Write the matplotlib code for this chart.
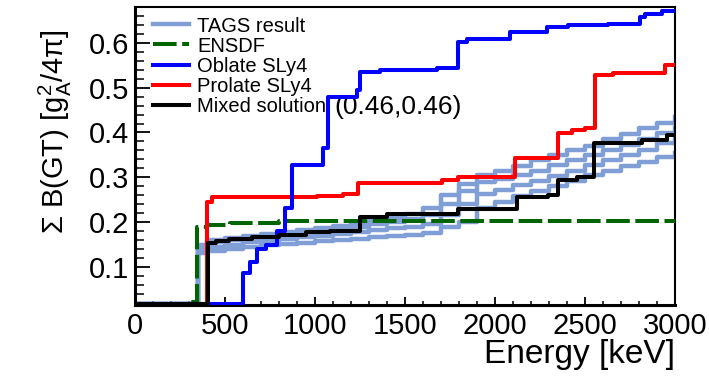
import numpy as np
import matplotlib
matplotlib.use("Agg")
import matplotlib.pyplot as plt
from matplotlib.ticker import MultipleLocator, FormatStrFormatter

plt.rcParams['font.family'] = ['Liberation Sans', 'DejaVu Sans']
plt.rcParams['mathtext.fontset'] = 'custom'
plt.rcParams['mathtext.rm'] = 'Liberation Sans'
plt.rcParams['mathtext.it'] = 'Liberation Sans:italic'
plt.rcParams['lines.scale_dashes'] = False

# TAGS solutions (four curves, drawn as one band)
tags_e = [0, 350, 400, 500, 600, 700, 800, 900, 1000, 1100, 1200, 1300, 1400, 1500,
          1600, 1700, 1800, 1900, 2000, 2100, 2200, 2300, 2400, 2500, 2600, 2700,
          2800, 2900, 3000]
tags_a = [0.018, 0.15, 0.16, 0.165, 0.17, 0.173, 0.177, 0.182, 0.187, 0.192, 0.197,
          0.203, 0.21, 0.218, 0.232, 0.26, 0.285, 0.305, 0.315, 0.325, 0.338, 0.35,
          0.36, 0.37, 0.385, 0.397, 0.41, 0.422, 0.435]
tags_b = [0.018, 0.145, 0.155, 0.16, 0.163, 0.167, 0.171, 0.175, 0.18, 0.185, 0.19,
          0.195, 0.2, 0.206, 0.215, 0.24, 0.27, 0.29, 0.297, 0.305, 0.315, 0.327,
          0.338, 0.35, 0.362, 0.373, 0.385, 0.398, 0.41]
tags_c = [0.018, 0.14, 0.145, 0.15, 0.155, 0.158, 0.162, 0.166, 0.17, 0.174, 0.178,
          0.182, 0.186, 0.19, 0.196, 0.215, 0.24, 0.262, 0.272, 0.282, 0.292, 0.303,
          0.315, 0.327, 0.339, 0.35, 0.362, 0.376, 0.39]
tags_d = [0.018, 0.13, 0.135, 0.14, 0.145, 0.148, 0.151, 0.154, 0.157, 0.16, 0.163,
          0.166, 0.169, 0.172, 0.176, 0.188, 0.2, 0.232, 0.245, 0.258, 0.27, 0.28,
          0.292, 0.305, 0.315, 0.325, 0.335, 0.345, 0.355]

ensdf_e = [0, 305, 345, 400, 530, 800, 3000]
ensdf_v = [0.018, 0.022, 0.19, 0.194, 0.198, 0.203, 0.203]

oblate_e = [0, 600, 640, 680, 730, 790, 835, 870, 1045, 1070, 1235, 1250, 1360, 1680,
            1795, 1845, 2085, 2290, 2405, 2630, 2805, 2835, 2930, 3000]
oblate_v = [0.018, 0.087, 0.112, 0.14, 0.149, 0.18, 0.232, 0.328, 0.366, 0.48, 0.495,
            0.535, 0.54, 0.544, 0.603, 0.608, 0.625, 0.635, 0.64, 0.643, 0.658, 0.665,
            0.672, 0.672]

prolate_e = [0, 400, 430, 1010, 1155, 1240, 1705, 1795, 2110, 2350, 2430, 2500, 2555,
             2655, 2945, 3000]
prolate_v = [0.018, 0.245, 0.256, 0.258, 0.262, 0.287, 0.294, 0.3, 0.343, 0.399, 0.405,
             0.41, 0.529, 0.533, 0.551, 0.551]

mixed_e = [0, 405, 450, 520, 650, 800, 950, 1085, 1250, 1400, 1795, 2120, 2295, 2350,
           2455, 2550, 2815, 2955, 3000]
mixed_v = [0.018, 0.153, 0.158, 0.163, 0.167, 0.172, 0.177, 0.181, 0.212, 0.219, 0.229,
           0.256, 0.26, 0.294, 0.3, 0.377, 0.383, 0.395, 0.395]

tags_col = '#7f9fd6'
lw = 2.9

fig = plt.figure(figsize=(7.09, 3.77), dpi=100)
ax = fig.add_axes([135/709, 1-305/377, 540/709, 298/377])

for i, t in enumerate([tags_a, tags_b, tags_c, tags_d]):
    ax.step(tags_e, t, where='post', color=tags_col, lw=3.2, zorder=2,
            label='TAGS result' if i == 0 else None)
ax.step(ensdf_e, ensdf_v, where='post', color='#006400', lw=lw, dashes=(17, 4),
        zorder=3, label='ENSDF')
ax.step(oblate_e, oblate_v, where='post', color='#0000ff', lw=lw, zorder=5,
        label='Oblate SLy4')
ax.step(prolate_e, prolate_v, where='post', color='#ff0000', lw=lw, zorder=4,
        label='Prolate SLy4')
ax.step(mixed_e, mixed_v, where='post', color='black', lw=lw, zorder=6,
        label='Mixed solution')

ax.set_xlim(0, 3000)
ax.set_ylim(0.015, 0.68)

ax.xaxis.set_major_locator(MultipleLocator(500))
ax.xaxis.set_minor_locator(MultipleLocator(100))
ax.yaxis.set_major_locator(MultipleLocator(0.1))
ax.yaxis.set_minor_locator(MultipleLocator(0.02))
ax.yaxis.set_major_formatter(FormatStrFormatter('%.1f'))

ax.tick_params(axis='x', which='major', direction='in', length=6, width=1.3,
               labelsize=21, pad=5)
ax.tick_params(axis='x', which='minor', direction='in', length=3, width=1.1)
ax.tick_params(axis='y', which='major', direction='in', length=11, width=1.3,
               labelsize=21, pad=4)
ax.tick_params(axis='y', which='minor', direction='in', length=6.5, width=1.1)

for s in ['left', 'bottom']:
    ax.spines[s].set_linewidth(2.2)
for s in ['top', 'right']:
    ax.spines[s].set_linewidth(1.5)

leg = ax.legend(loc='upper left', bbox_to_anchor=(0.033, 0.968), frameon=False,
                fontsize=14.5, borderpad=0, borderaxespad=0, labelspacing=0.05,
                handlelength=1.8, handletextpad=0.4)

ax.text(0.37, 0.665, '(0.46,0.46)', transform=ax.transAxes, fontsize=19,
        ha='left', va='center')

fig.text(55/709, 1-132/377, r'Σ B(GT) [g$_\mathrm{A}^{2}$/4π]', rotation=90,
         ha='center', va='center', fontsize=21)
fig.text(675/709, 1-355/377, 'Energy [keV]', ha='right', va='center', fontsize=24)

fig.savefig('out.png', dpi=100)
